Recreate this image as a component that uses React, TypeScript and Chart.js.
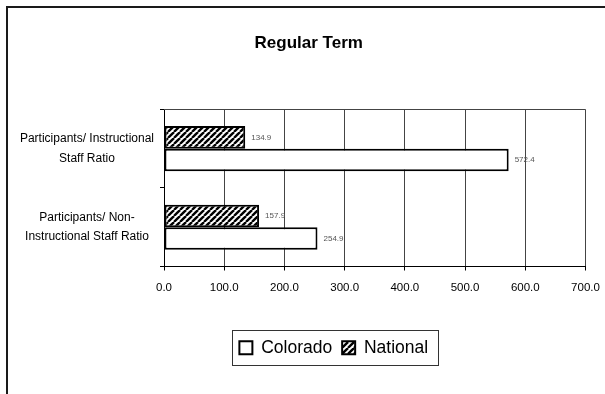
import React, { useEffect, useRef } from "react";
import { Chart, registerables } from "chart.js";

Chart.register(...registerables);

const categories: string[][] = [
  ["Participants/ Instructional", "Staff Ratio"],
  ["Participants/ Non-", "Instructional Staff Ratio"],
];
const nationalValues = [134.9, 157.9];
const coloradoValues = [572.4, 254.9];
const xTicks = [0, 100, 200, 300, 400, 500, 600, 700];
const seriesNames = ["National", "Colorado"];

const FONT = "'Liberation Sans', Arial, sans-serif";

function makeHatch(): CanvasPattern | string {
  const s = 6;
  const c = document.createElement("canvas");
  c.width = s;
  c.height = s;
  const g = c.getContext("2d");
  if (!g) return "#777";
  g.fillStyle = "#ffffff";
  g.fillRect(0, 0, s, s);
  g.strokeStyle = "#000000";
  g.lineWidth = 2.4;
  for (let k = -1; k <= 1; k++) {
    g.beginPath();
    g.moveTo(k * s, s);
    g.lineTo(k * s + s, 0);
    g.stroke();
  }
  return g.createPattern(c, "repeat") || "#777";
}

const LEGEND_SHIFT = 41;
const TITLE_SHIFT = 16;

const decorPlugin = {
  id: "decor",
  afterLayout(chart: any) {
    const lg = chart.legend;
    if (lg) {
      lg.left += LEGEND_SHIFT;
      lg.right += LEGEND_SHIFT;
    }
    const tt = chart.titleBlock;
    if (tt) {
      tt.left += TITLE_SHIFT;
      tt.right += TITLE_SHIFT;
    }
  },
  afterDraw(chart: any) {
    const ctx = chart.ctx;
    const area = chart.chartArea;
    ctx.save();
    // outer frame
    ctx.strokeStyle = "#1a1a1a";
    ctx.lineWidth = 2;
    ctx.beginPath();
    ctx.moveTo(7, 394);
    ctx.lineTo(7, 7);
    ctx.lineTo(605, 7);
    ctx.stroke();
    // plot top border
    ctx.strokeStyle = "#444";
    ctx.lineWidth = 1;
    ctx.beginPath();
    ctx.moveTo(area.left, Math.round(area.top) + 0.5);
    ctx.lineTo(area.right, Math.round(area.top) + 0.5);
    ctx.stroke();
    // value labels
    ctx.font = `8px ${FONT}`;
    ctx.fillStyle = "#555";
    ctx.textAlign = "left";
    ctx.textBaseline = "middle";
    chart.data.datasets.forEach((ds: any, di: number) => {
      const meta = chart.getDatasetMeta(di);
      meta.data.forEach((el: any, i: number) => {
        ctx.fillText(Number(ds.data[i]).toFixed(1), el.x + 6, el.y);
      });
    });
    // legend frame
    const lg = chart.legend;
    if (lg && lg.legendHitBoxes && lg.legendHitBoxes.length) {
      const hb = lg.legendHitBoxes;
      let l = Infinity, r = -Infinity, t = Infinity, b = -Infinity;
      hb.forEach((h: any) => {
        l = Math.min(l, h.left);
        r = Math.max(r, h.left + h.width);
        t = Math.min(t, h.top);
        b = Math.max(b, h.top + h.height);
      });
      ctx.strokeStyle = "#333";
      ctx.lineWidth = 1;
      ctx.strokeRect(Math.round(l - 7) + 0.5, Math.round(t - 9) + 0.5, Math.round(r - l + 17), Math.round(b - t + 17));
    }
    ctx.restore();
  },
};

export default function App() {
  const ref = useRef<HTMLCanvasElement | null>(null);
  useEffect(() => {
    if (!ref.current) return;
    const hatch = makeHatch();
    const chart = new Chart(ref.current, {
      type: "bar",
      data: {
        labels: categories,
        datasets: [
          {
            label: seriesNames[0],
            data: nationalValues,
            backgroundColor: hatch as any,
            borderColor: "#000",
            borderWidth: 2,
            borderSkipped: false,
            categoryPercentage: 0.575,
            barPercentage: 1.0,
          },
          {
            label: seriesNames[1],
            data: coloradoValues,
            backgroundColor: "#ffffff",
            borderColor: "#000",
            borderWidth: 2,
            borderSkipped: false,
            categoryPercentage: 0.575,
            barPercentage: 1.0,
          },
        ],
      },
      options: {
        indexAxis: "y",
        responsive: false,
        animation: false,
        devicePixelRatio: 1,
        layout: { padding: { left: 0, right: 19.5, top: 0, bottom: 27.5 } },
        plugins: {
          title: {
            display: true,
            text: "Regular Term",
            color: "#000",
            font: { family: FONT, size: 17, weight: "bold" },
            padding: { top: 33, bottom: 56 },
          },
          legend: {
            display: true,
            position: "bottom",
            reverse: true,
            labels: {
              color: "#000",
              font: { family: FONT, size: 17.5 },
              boxWidth: 13,
              boxHeight: 13,
              padding: 10,
            },
          },
          tooltip: { enabled: false },
        },
        scales: {
          x: {
            type: "linear",
            min: xTicks[0],
            max: xTicks[xTicks.length - 1],
            afterBuildTicks: (scale: any) => {
              scale.ticks = xTicks.map((v) => ({ value: v }));
            },
            afterFit: (scale: any) => {
              scale.height = 62.5;
              scale.paddingLeft = 0;
              scale.paddingRight = 0;
            },
            ticks: {
              color: "#000",
              font: { family: FONT, size: 11.5 },
              padding: 10,
              callback: (v: any) => Number(v).toFixed(1),
              maxRotation: 0,
            },
            grid: {
              color: "#444",
              lineWidth: 1,
              tickLength: 4,
              tickColor: "#000",
            },
            border: { display: true, color: "#000", width: 1 },
          },
          y: {
            type: "category",
            afterFit: (scale: any) => {
              scale.width = 164;
            },
            ticks: {
              color: "#000",
              font: { family: FONT, size: 12, lineHeight: 1.6 },
              crossAlign: "center",
              padding: 6,
            },
            grid: {
              drawOnChartArea: false,
              tickLength: 4,
              tickColor: "#000",
              offset: true,
            },
            border: { display: true, color: "#000", width: 1 },
          },
        },
      },
      plugins: [decorPlugin],
    });
    return () => chart.destroy();
  }, []);
  return (
    <div style={{ position: "fixed", left: 0, top: 0, width: 605, height: 394, background: "#fff" }}>
      <canvas ref={ref} width={605} height={394} style={{ width: 605, height: 394, display: "block" }} />
    </div>
  );
}
